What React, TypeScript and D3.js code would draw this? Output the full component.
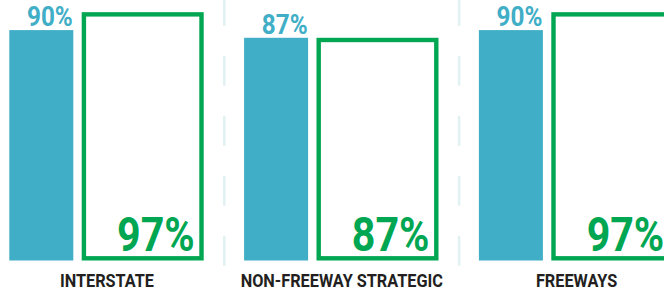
import React, { useEffect, useRef } from 'react';
import * as d3 from 'd3';

const categories = ['INTERSTATE', 'NON-FREEWAY STRATEGIC', 'FREEWAYS'];
const blueValues = [90, 87, 90];
const greenValues = [97, 87, 97];

const width = 664;
const height = 291;

const App = () => {
  const svgRef = useRef<SVGSVGElement>(null);

  useEffect(() => {
    const svg = d3.select(svgRef.current);
    svg.selectAll('*').remove();

    const blue = '#40aec6';
    const green = '#00a651';
    const blueW = 64;
    const gap = 8.4;
    const greenW = 122;
    const sw = 4.4;

    const x = d3.scaleBand<string>()
      .domain(categories)
      .range([9.3, 9.3 + 234.8 * categories.length])
      .padding(0);

    const y = d3.scaleLinear()
      .domain([0, 100])
      .range([260.5, 4.5]);

    // dashed separators between panels
    svg.append('g')
      .selectAll('line')
      .data(categories.slice(0, -1))
      .join('line')
      .attr('x1', d => x(d)! + 215)
      .attr('x2', d => x(d)! + 215)
      .attr('y1', 0)
      .attr('y2', 266)
      .attr('stroke', '#e2f2f2')
      .attr('stroke-width', 2.6)
      .attr('stroke-dasharray', '30 30')
      .attr('stroke-dashoffset', 4.3);

    const g = svg.append('g')
      .selectAll('g')
      .data(categories)
      .join('g')
      .attr('transform', d => `translate(${x(d)},0)`);

    // blue bars
    g.append('rect')
      .attr('x', 0)
      .attr('y', (d, i) => y(blueValues[i]))
      .attr('width', blueW)
      .attr('height', (d, i) => y(0) - y(blueValues[i]))
      .attr('fill', blue);

    g.append('text')
      .attr('transform', (d, i) => `translate(${blueW - 0.5},${y(blueValues[i]) - 3.8}) scale(0.9,1)`)
      .attr('text-anchor', 'end')
      .attr('font-family', 'Roboto, sans-serif')
      .attr('font-weight', 700)
      .attr('font-size', 27)
      .attr('fill', blue)
      .text((d, i) => `${blueValues[i]}%`);

    // green outlined bars
    g.append('rect')
      .attr('x', blueW + gap + sw / 2)
      .attr('y', (d, i) => y(greenValues[i]) + sw / 2)
      .attr('width', greenW - sw)
      .attr('height', (d, i) => y(0) - y(greenValues[i]) - sw)
      .attr('fill', 'none')
      .attr('stroke', green)
      .attr('stroke-width', sw);

    g.append('text')
      .attr('transform', `translate(${blueW + gap + greenW - 9},${y(0) - 9.5}) scale(0.84,1)`)
      .attr('text-anchor', 'end')
      .attr('font-family', 'Roboto, sans-serif')
      .attr('font-weight', 700)
      .attr('font-size', 49)
      .attr('fill', green)
      .text((d, i) => `${greenValues[i]}%`);

    // category labels
    g.append('text')
      .attr('transform', `translate(${(blueW + gap + greenW) / 2 + 0.5},286.5) scale(0.88,1)`)
      .attr('text-anchor', 'middle')
      .attr('font-family', 'Roboto, sans-serif')
      .attr('font-weight', 700)
      .attr('font-size', 18.5)
      .attr('fill', '#231f20')
      .text(d => d);
  }, []);

  return (
    <svg
      ref={svgRef}
      width={width}
      height={height}
      style={{ position: 'absolute', left: 0, top: 0, background: '#fff' }}
    />
  );
};

export default App;
